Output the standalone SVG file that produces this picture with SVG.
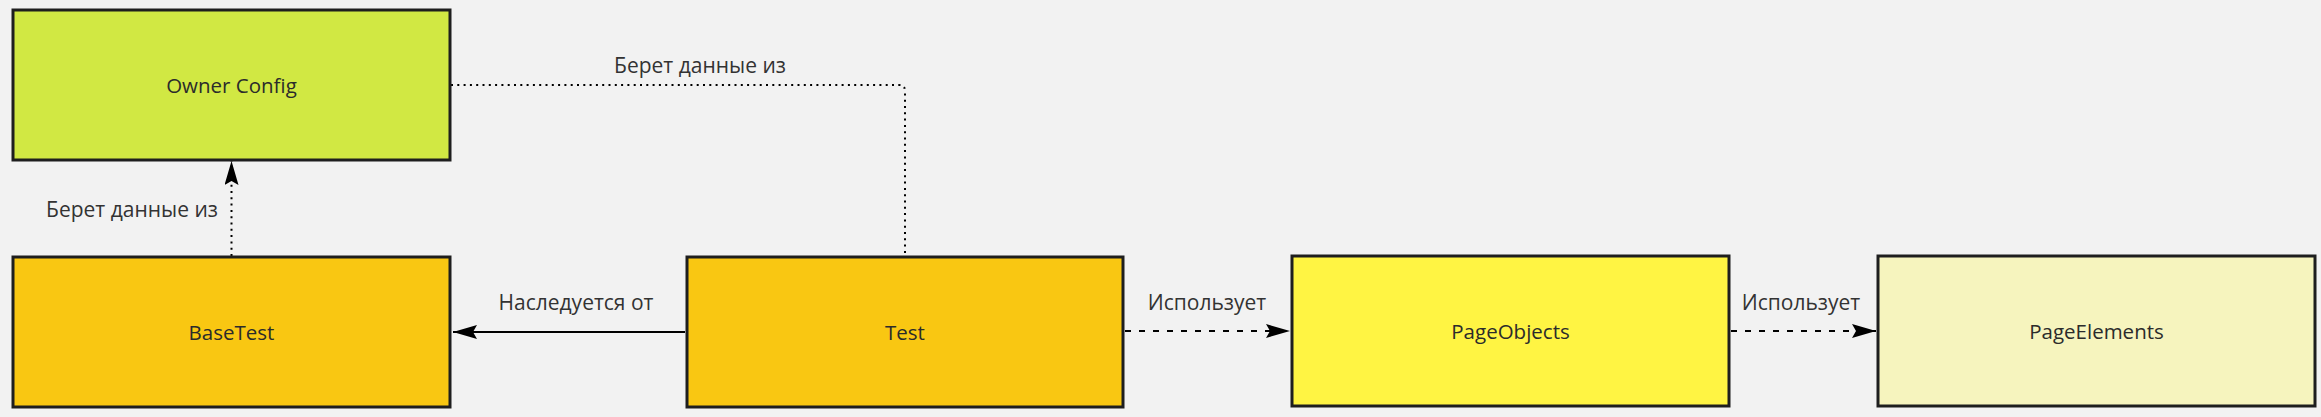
<svg xmlns="http://www.w3.org/2000/svg" width="2321" height="417" viewBox="0 0 2321 417">
<defs>
<style>
.box{stroke:#1e1e1e;stroke-width:3}
.t{font-family:"Open Sans","Noto Sans","DejaVu Sans",sans-serif;font-size:20.5px;fill:#2b2b2b;text-anchor:middle;dominant-baseline:central}
.l{font-family:"Open Sans","Noto Sans","DejaVu Sans",sans-serif;font-size:21px;fill:#333333;text-anchor:middle;dominant-baseline:central}
.edge{fill:none;stroke:#000000;stroke-width:2}
.dot{stroke-dasharray:2 4.3}
.dash{stroke-dasharray:6 8}
</style>
<marker id="arr" markerUnits="userSpaceOnUse" markerWidth="26" markerHeight="16" refX="24" refY="7" orient="auto">
<path d="M0,0 L24,7 L0,14 L4,7 Z" fill="#000"/>
</marker>
</defs>
<rect width="2321" height="417" fill="#f2f2f2"/>
<g id="connectors">
<path class="edge dot" d="M451,85 H899 Q905,85 905,91 V256"/>
<text class="l" x="700" y="65">Берет данные из</text>
<path class="edge dot" d="M231.5,256 V161" marker-end="url(#arr)"/>
<text class="l" x="132" y="209">Берет данные из</text>
<path class="edge" d="M685,332 H453" marker-end="url(#arr)"/>
<text class="l" x="576" y="302">Наследуется от</text>
<path class="edge dash" d="M1125,331 H1290" marker-end="url(#arr)"/>
<text class="l" x="1207" y="302">Использует</text>
<path class="edge dash" d="M1731,331 H1876" marker-end="url(#arr)"/>
<text class="l" x="1801" y="302">Использует</text>
</g>
<g id="owner-config">
<rect class="box" x="13" y="10" width="437" height="150" fill="#d1e843"/>
<text class="t" x="231.5" y="85">Owner Config</text>
</g>
<g id="base-test">
<rect class="box" x="13" y="257" width="437" height="150" fill="#f9c712"/>
<text class="t" x="231.5" y="332">BaseTest</text>
</g>
<g id="test">
<rect class="box" x="687" y="257" width="436" height="150" fill="#f9c712"/>
<text class="t" x="905" y="332">Test</text>
</g>
<g id="page-objects">
<rect class="box" x="1292" y="256" width="437" height="150" fill="#fff443"/>
<text class="t" x="1510.5" y="331">PageObjects</text>
</g>
<g id="page-elements">
<rect class="box" x="1878" y="256" width="437" height="150" fill="#f6f4be"/>
<text class="t" x="2096.5" y="331">PageElements</text>
</g>
</svg>
